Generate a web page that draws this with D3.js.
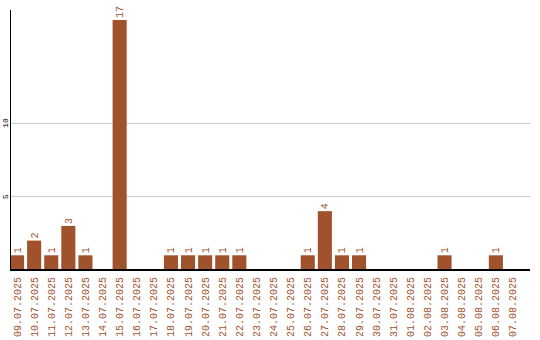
<!DOCTYPE html>
<html>
<head>
<meta charset="utf-8">
<script src="https://cdn.jsdelivr.net/npm/d3@7/dist/d3.min.js"></script>
<style>
    html, body { margin: 0; padding: 0; background: #fff; }
    svg { display: block; }
    .grid line { stroke: #cccccc; stroke-width: 1; }
    .bar { fill: #a0522d; }
    .val, .xlab { fill: #a0522d; font-family: "Liberation Mono", "DejaVu Sans Mono", monospace; font-size: 10px; }
    .ylab { fill: #000; font-family: "Liberation Mono", "DejaVu Sans Mono", monospace; font-size: 8px; }
</style>
</head>
<body>
<div id="chart"></div>
<script>
// dates on the x axis
const DATES = [
    '09.07.2025', '10.07.2025', '11.07.2025', '12.07.2025', '13.07.2025',
    '14.07.2025', '15.07.2025', '16.07.2025', '17.07.2025', '18.07.2025',
    '19.07.2025', '20.07.2025', '21.07.2025', '22.07.2025', '23.07.2025',
    '24.07.2025', '25.07.2025', '26.07.2025', '27.07.2025', '28.07.2025',
    '29.07.2025', '30.07.2025', '31.07.2025', '01.08.2025', '02.08.2025',
    '03.08.2025', '04.08.2025', '05.08.2025', '06.08.2025', '07.08.2025'
];
// counts per day
const COUNTS = [1, 2, 1, 3, 1, 0, 17, 0, 0, 1, 1, 1, 1, 1, 0, 0, 0, 1, 4, 1, 1, 0, 0, 0, 0, 1, 0, 0, 1, 0];
// y ticks
const Y_TICKS = [5, 10];

(function () {
    'use strict';

    const W = 540, H = 340;
    const left = 10, right = 530, base = 270, top = 10;

    const svg = d3.select('#chart').append('svg')
        .attr('width', W)
        .attr('height', H);

    const x = d3.scaleBand()
        .domain(DATES)
        .range([left, left + DATES.length * 17])
        .paddingInner(3 / 17)
        .paddingOuter(0)
        .align(0);

    const y = d3.scaleLinear()
        .domain([0, 17])
        .range([base, 20]);

    // grid lines
    const grid = svg.append('g').attr('class', 'grid');
    Y_TICKS.forEach(function (t) {
        grid.append('line')
            .attr('x1', left).attr('x2', right)
            .attr('y1', Math.round(y(t)) + 0.5).attr('y2', Math.round(y(t)) + 0.5);
    });

    // y tick labels (rotated)
    Y_TICKS.forEach(function (t) {
        svg.append('text')
            .attr('class', 'ylab')
            .attr('transform', 'translate(5,' + y(t) + ') rotate(-90)')
            .attr('text-anchor', 'middle')
            .attr('dy', '0.35em')
            .text(t);
    });

    // bars
    const rows = DATES.map(function (d, i) { return { date: d, v: COUNTS[i] }; });
    const nonZero = rows.filter(function (d) { return d.v > 0; });

    svg.append('g').selectAll('rect')
        .data(nonZero)
        .enter()
        .append('rect')
        .attr('class', 'bar')
        .attr('x', function (d) { return x(d.date); })
        .attr('y', function (d) { return y(d.v); })
        .attr('width', x.bandwidth())
        .attr('height', function (d) { return base - y(d.v); });

    // value labels
    svg.append('g').selectAll('text')
        .data(nonZero)
        .enter()
        .append('text')
        .attr('class', 'val')
        .attr('transform', function (d) {
            return 'translate(' + (x(d.date) + x.bandwidth() / 2) + ',' + (y(d.v) - 2) + ') rotate(-90)';
        })
        .attr('dy', '0.35em')
        .text(function (d) { return d.v; });

    // axes
    svg.append('line')
        .attr('x1', left + 0.5).attr('x2', left + 0.5)
        .attr('y1', top).attr('y2', base)
        .attr('stroke', '#000').attr('stroke-width', 1);
    svg.append('line')
        .attr('x1', left).attr('x2', right)
        .attr('y1', base).attr('y2', base)
        .attr('stroke', '#000').attr('stroke-width', 2);

    // x labels
    svg.append('g').selectAll('text')
        .data(DATES)
        .enter()
        .append('text')
        .attr('class', 'xlab')
        .attr('transform', function (d) {
            return 'translate(' + (x(d) + x.bandwidth() / 2) + ',' + (base + 7) + ') rotate(-90)';
        })
        .attr('text-anchor', 'end')
        .attr('dy', '0.35em')
        .text(function (d) { return d; });
})();
</script>
</body>
</html>
